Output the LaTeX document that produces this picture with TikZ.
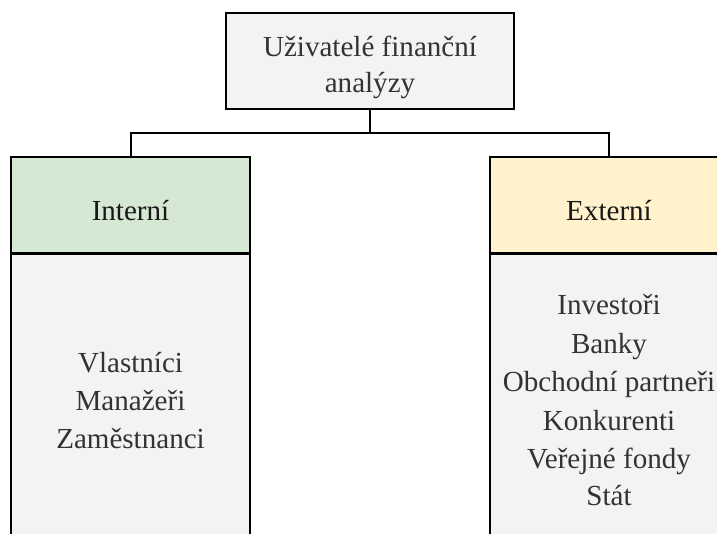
\documentclass[tikz,border=0pt]{standalone}
\usepackage{fontspec}
\setmainfont{Liberation Serif}
\definecolor{boxgray}{HTML}{F3F3F3}
\definecolor{hdgreen}{HTML}{D5E8D4}
\definecolor{hdyellow}{HTML}{FFF2CC}
\definecolor{txtgray}{HTML}{333333}
\begin{document}
\begin{tikzpicture}[x=0.75pt,y=-0.75pt,
  box/.style={draw=black, line width=1.5pt, rectangle, inner sep=0pt, text=txtgray},
  lbl/.style={anchor=base, inner sep=0pt, text=txtgray, font=\fontsize{21.8}{26}\selectfont},
  conn/.style={draw=black, line width=1.5pt}]
\useasboundingbox (0,0) rectangle (717,533);
\clip (0,0) rectangle (717,533);
\fill[white] (0,0) rectangle (717,533);
% top box
\node[box, fill=boxgray, minimum width=216pt, minimum height=72pt] (top) at (370,61) {};
\node[lbl] (t1) at (370,56) {Uživatelé finanční};
\node[lbl] (t2) at (370,92) {analýzy};
% left column
\node[box, fill=hdgreen, minimum width=179.25pt, minimum height=72pt] (lhead) at (130.5,205) {};
\node[box, fill=boxgray, minimum width=179.25pt, minimum height=240pt, anchor=north] (lbody) at (130.5,253) {};
\node[lbl, text=black!90] (lh) at (130.5,220) {Interní};
\node[lbl] (l1) at (130.5,372) {Vlastníci};
\node[lbl] (l2) at (130.5,410) {Manažeři};
\node[lbl] (l3) at (130.5,448) {Zaměstnanci};
% right column
\node[box, fill=hdyellow, minimum width=178.5pt, minimum height=72pt] (rhead) at (609,205) {};
\node[box, fill=boxgray, minimum width=178.5pt, minimum height=240pt, anchor=north] (rbody) at (609,253) {};
\node[lbl, text=black!90] (rh) at (609,220) {Externí};
\node[lbl] (r1) at (609,314) {Investoři};
\node[lbl] (r2) at (609,353) {Banky};
\node[lbl] (r3) at (609,391.5) {Obchodní partneři};
\node[lbl] (r4) at (609,430) {Konkurenti};
\node[lbl] (r5) at (609,468) {Veřejné fondy};
\node[lbl] (r6) at (609,505) {Stát};
% connectors
\coordinate (hub) at (370,133);
\draw[conn] (top.south) -- (hub);
\draw[conn] (lhead.north) |- (hub) -| (rhead.north);
\end{tikzpicture}
\end{document}
